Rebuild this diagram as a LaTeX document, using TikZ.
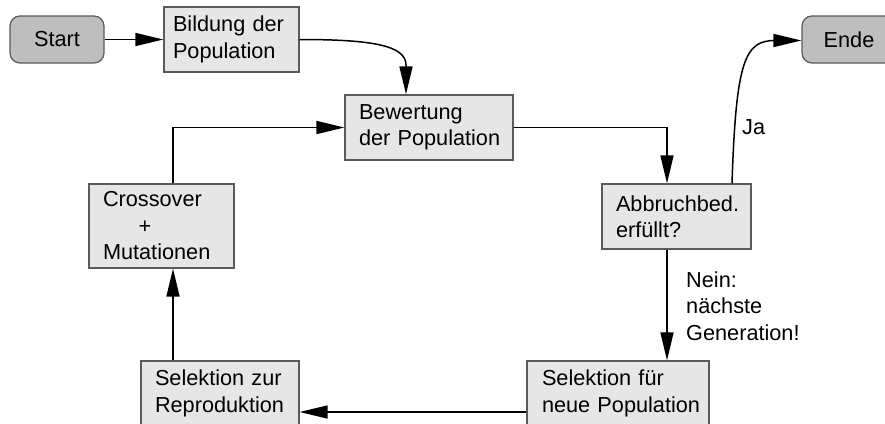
\documentclass[tikz,border=0pt]{standalone}
\usepackage{fontspec}
\setmainfont{Liberation Sans}
\usetikzlibrary{arrows.meta}
\definecolor{boxfill}{HTML}{E6E6E6}
\definecolor{termfill}{HTML}{BEBEBE}
\definecolor{boxline}{HTML}{5A5A5A}
\begin{document}
\begin{tikzpicture}[x=1pt,y=-1pt,
  every node/.style={font=\fontsize{21.7}{26.5}\selectfont},
  procbox/.style={draw=boxline, line width=1.2pt, fill=boxfill, align=left, inner ysep=0pt, minimum height=65pt},
  termbox/.style={draw=boxline, line width=1.2pt, fill=termfill, rounded corners=10pt, minimum width=94pt, minimum height=47pt, inner sep=0pt},
  conn/.style={draw=black, line width=1.5pt, -{Triangle[length=28pt,width=13pt]}},
  lbl/.style={anchor=west, inner sep=0pt, align=left},
]
\useasboundingbox (0,0) rectangle (885,423);
\clip (0,0) rectangle (885,423);

\node[termbox] (start) at (57,39.5) {Start};
\node[procbox, inner xsep=9pt, text width=117pt] (bild) at (231.5,39.5) {Bildung der\\Population};
\node[procbox, inner xsep=14pt, text width=140pt] (bew) at (429,127.5) {Bewertung\\\mbox{der Population}};
\node[procbox, inner xsep=14pt, text width=117pt, minimum height=84pt] (cross) at (161.5,226) {Crossover\\\hspace*{35.7pt}+\\Mutationen};
\node[procbox, inner xsep=14pt, text width=121pt] (abb) at (676.5,216.5) {\mbox{Abbruchbed.}\\erfüllt?};
\node[procbox, inner xsep=14pt, text width=130pt] (selr) at (220,393.5) {\mbox{Selektion zur}\\\mbox{Reproduktion}};
\node[procbox, inner xsep=15pt, text width=152pt] (seln) at (618,393.5) {Selektion für\\\mbox{neue Population}};
\node[termbox] (ende) at (849,39.5) {Ende};

\node[lbl] (ja) at (742,127) {Ja};
\node[lbl] (nein) at (686,306) {Nein:\\nächste\\Generation!};

\coordinate (lx) at (173,0);
\coordinate (rx) at (667,0);
\coordinate (jx) at (732,0);
\coordinate (by) at (0,412);
\coordinate (b1) at (406,65);
\coordinate (j2) at (775,40.5);

\draw[conn] (start) -- (bild);
\draw[conn] (bild.east) .. controls (370,39.5) and (406,45) .. (b1) -- (b1 |- bew.north);
\draw[conn] (bew.east) -| (rx |- abb.north);
\draw[conn] (abb.south -| rx) -- (seln.north -| rx);
\draw[conn] (seln.west |- by) -- (selr.east |- by);
\draw[conn] (selr.north -| lx) -- (cross.south -| lx);
\draw[conn] (cross.north -| lx) |- (bew.west);
\draw[conn] (abb.north -| jx) .. controls (736,60) and (745,40.5) .. (j2) -- (ende.west |- j2);
\end{tikzpicture}
\end{document}
